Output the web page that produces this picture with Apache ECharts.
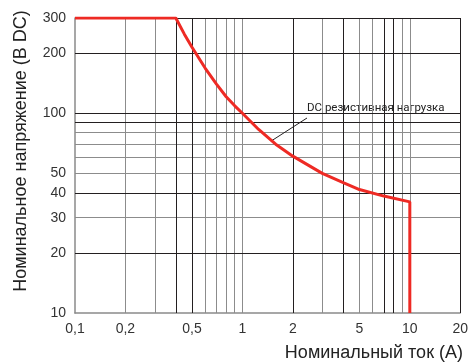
<!DOCTYPE html>
<html>
<head>
<meta charset="utf-8">
<script src="https://cdn.jsdelivr.net/npm/echarts@6/dist/echarts.min.js"></script>
<style>
  html, body { margin: 0; padding: 0; background: #fff; }
  #chart { width: 471px; height: 363px; }
</style>
</head>
<body>
<div id="chart"></div>
<script>
// 刻度标签
var xTicks = [0.1, 0.2, 0.5, 1, 2, 5, 10, 20];
var yTicks = [10, 20, 30, 40, 50, 100, 200, 300];
// 网格线 (深色 / 灰色)
var xGridDark = [0.4, 0.5, 2, 4, 7, 8, 20];
var xGridGray = [0.2, 0.3, 0.6, 0.7, 0.8, 0.9, 1, 3, 5, 6, 9, 10];
var yGridDark = [20, 40, 90, 100, 200, 300];
var yGridGray = [30, 50, 60, 70, 80];
// DC резистивная нагрузка
var curveCurrent = [0.1, 0.4, 0.45, 0.5, 0.6, 0.7, 0.8, 0.9, 1, 1.25, 1.58, 2, 3, 4, 5, 7, 10, 10];
var curveVoltage = [300, 300, 249, 214, 168, 140, 121, 109, 100, 83, 70, 61, 50, 45, 41.5, 38.5, 36, 10];

var font = "'Liberation Sans', Arial, sans-serif";

var myChart = echarts.init(document.getElementById("chart"));

function gridLines(xs, ys, color) {
  return {
    type: "line",
    data: [],
    z: 1,
    silent: true,
    markLine: {
      silent: true,
      symbol: "none",
      animation: false,
      label: { show: false },
      emphasis: { disabled: true },
      lineStyle: { color: color, width: 1, type: "solid" },
      data: xs.map(function (v) { return { xAxis: v }; })
        .concat(ys.map(function (v) { return { yAxis: v }; }))
    }
  };
}

var option = {
  animation: false,
  grid: { left: 75, right: 8, top: 18, bottom: 50 },
  xAxis: {
    type: "log",
    min: 0.1,
    max: 20,
    splitLine: { show: false },
    axisTick: { show: false },
    axisLine: { lineStyle: { color: "#8a8a8a", width: 1.5 } },
    axisLabel: {
      customValues: xTicks,
      margin: 9,
      color: "#333",
      fontSize: 14,
      fontFamily: font,
      formatter: function (v) {
        return String(+v.toFixed(2)).replace(".", ",");
      }
    }
  },
  yAxis: {
    type: "log",
    min: 10,
    max: 300,
    splitLine: { show: false },
    axisTick: { show: false },
    axisLine: { lineStyle: { color: "#8a8a8a", width: 1.5 } },
    axisLabel: {
      customValues: yTicks,
      margin: 9,
      color: "#333",
      fontSize: 14,
      fontFamily: font,
      formatter: function (v) { return String(Math.round(v)); }
    }
  },
  graphic: [
    {
      type: "text",
      x: 21,
      y: 151,
      rotation: Math.PI / 2,
      style: {
        text: "Номинальное напряжение (В DC)",
        font: "18px " + font,
        fill: "#222",
        align: "center",
        verticalAlign: "middle"
      }
    },
    {
      type: "text",
      x: 463,
      y: 353,
      style: {
        text: "Номинальный ток (А)",
        font: "18px " + font,
        fill: "#222",
        align: "right",
        verticalAlign: "middle"
      }
    },
    {
      type: "text",
      x: 307,
      y: 108,
      style: {
        text: "DC резистивная нагрузка",
        font: "11.5px Roboto, sans-serif",
        fill: "#222",
        align: "left",
        verticalAlign: "middle"
      }
    }
  ],
  series: [
    gridLines(xGridGray, yGridGray, "#8c8c8c"),
    gridLines(xGridDark, yGridDark, "#231f20"),
    {
      type: "line",
      z: 5,
      symbol: "none",
      silent: true,
      lineStyle: { color: "#ee2a24", width: 3 },
      data: curveCurrent.map(function (x, i) { return [x, curveVoltage[i]]; }),
      markLine: {
        silent: true,
        symbol: "none",
        label: { show: false },
        lineStyle: { color: "#231f20", width: 1, type: "solid" },
        data: [[{ coord: [1.5, 73] }, { x: 307, y: 118 }]]
      }
    }
  ]
};

myChart.setOption(option);
</script>
</body>
</html>
